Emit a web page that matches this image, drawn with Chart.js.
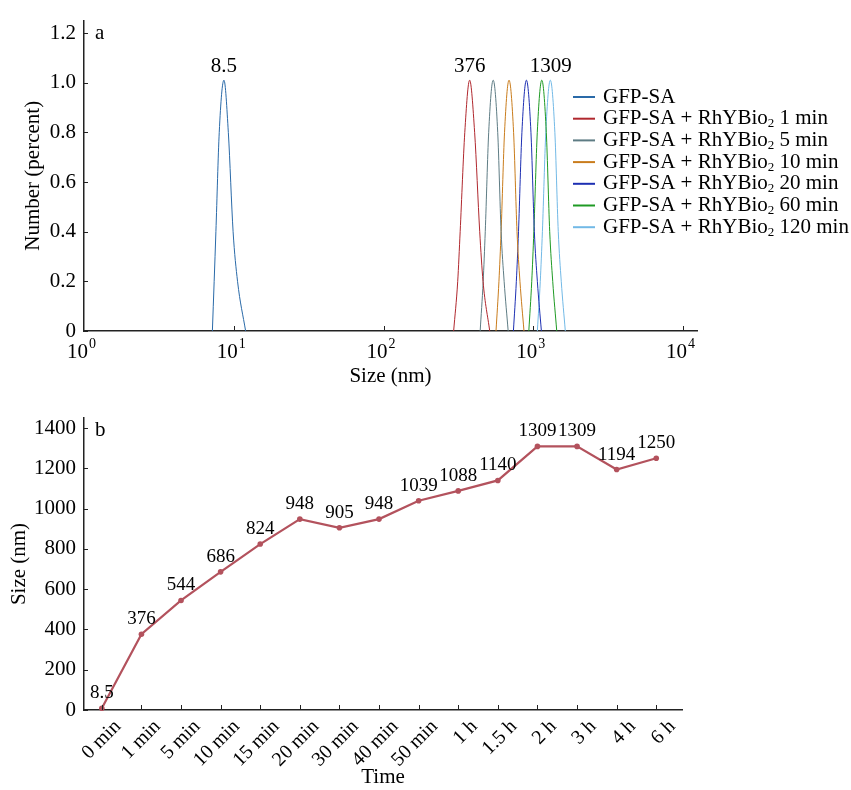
<!DOCTYPE html>
<html>
<head>
<meta charset="utf-8">
<script src="https://cdn.jsdelivr.net/npm/chart.js@4.4.1/dist/chart.umd.min.js"></script>
<style>
  html, body { margin: 0; padding: 0; background: #fff; }
  .panel { position: relative; width: 851px; height: 395px; }
</style>
</head>
<body>
<div class="panel"><canvas id="chart-a"></canvas></div>
<div class="panel"><canvas id="chart-b"></canvas></div>
<script>
const SERIF = '"Liberation Serif", "Times New Roman", serif';

// ---- panel a: size distribution, x = size (nm), y = number (percent)
const seriesNames = [
    'GFP-SA',
    'GFP-SA + RhYBio₂ 1 min',
    'GFP-SA + RhYBio₂ 5 min',
    'GFP-SA + RhYBio₂ 10 min',
    'GFP-SA + RhYBio₂ 20 min',
    'GFP-SA + RhYBio₂ 60 min',
    'GFP-SA + RhYBio₂ 120 min'
];
const seriesColors = ['#2a6aa8', '#b0282e', '#5e7c84', '#c97c1c', '#1d2fb2', '#1f9a24', '#72b9e6'];

// [size nm, number %]
const gfpSa    = [[7.2, 0], [7.4, 0.2], [7.6, 0.4], [8.0, 0.8], [8.6, 1.01], [9.2, 0.8], [9.9, 0.4], [10.6, 0.2], [12.0, 0]];
const rh1min   = [[294, 0], [313, 0.2], [325, 0.4], [349, 0.8], [376, 1.01], [406, 0.8], [439, 0.4], [462, 0.2], [512, 0]];
const rh5min   = [[442, 0], [463, 0.2], [478, 0.4], [504, 0.8], [540, 1.01], [579, 0.8], [610, 0.4], [639, 0.2], [680, 0]];
const rh10min  = [[564, 0], [590, 0.2], [610, 0.4], [643, 0.8], [689, 1.01], [739, 0.8], [779, 0.4], [815, 0.2], [867, 0]];
const rh20min  = [[737, 0], [771, 0.2], [797, 0.4], [840, 0.8], [900, 1.01], [965, 0.8], [1017, 0.4], [1065, 0.2], [1133, 0]];
const rh60min  = [[934, 0], [977, 0.2], [1009, 0.4], [1064, 0.8], [1140, 1.01], [1222, 0.8], [1288, 0.4], [1349, 0.2], [1435, 0]];
const rh120min = [[1065, 0], [1114, 0.2], [1151, 0.4], [1213, 0.8], [1300, 1.01], [1394, 0.8], [1469, 0.4], [1538, 0.2], [1637, 0]];
const curves = [gfpSa, rh1min, rh5min, rh10min, rh20min, rh60min, rh120min];

const peakLabels = ['8.5', '376', '1309'];
const peakPositions = [8.6, 376, 1309];
const sizeTicks = [1, 10, 100, 1000, 10000];
const numberTicks = [0, 0.2, 0.4, 0.6, 0.8, 1.0, 1.2];

// ---- panel b: size over time
const times = ['0 min', '1 min', '5 min', '10 min', '15 min', '20 min', '30 min', '40 min',
               '50 min', '1 h', '1.5 h', '2 h', '3 h', '4 h', '6 h'];
const sizes = [8.5, 376, 544, 686, 824, 948, 905, 948, 1039, 1088, 1140, 1309, 1309, 1194, 1250];
const sizeAxisTicks = [0, 200, 400, 600, 800, 1000, 1200, 1400];

const lineColor = '#b3525d';
const FS = 21;

function drawInwardTicks(ctx, chart, xValues, yValues, xLen, yLen) {
    const { x, y } = chart.scales;
    ctx.save();
    ctx.strokeStyle = '#222';
    ctx.lineWidth = 1;
    yValues.forEach(v => {
        const py = Math.round(y.getPixelForValue(v)) + 0.5;
        ctx.beginPath();
        ctx.moveTo(x.left, py);
        ctx.lineTo(x.left + yLen, py);
        ctx.stroke();
    });
    xValues.forEach(v => {
        const px = Math.round(x.getPixelForValue(v)) + 0.5;
        ctx.beginPath();
        ctx.moveTo(px, y.bottom);
        ctx.lineTo(px, y.bottom - xLen);
        ctx.stroke();
    });
    ctx.restore();
}

// text with "₂" drawn as a real subscript
function fillSubText(ctx, text, x, y, size) {
    const parts = text.split('₂');
    let cx = x;
    parts.forEach((part, i) => {
        ctx.font = `${size}px ${SERIF}`;
        ctx.fillText(part, cx, y);
        cx += ctx.measureText(part).width;
        if (i < parts.length - 1) {
            ctx.font = `${Math.round(size * 0.62)}px ${SERIF}`;
            ctx.fillText('2', cx, y + 5);
            cx += ctx.measureText('2').width;
        }
    });
}

const panelAExtras = {
    id: 'panelAExtras',
    afterDraw(chart) {
        const { ctx } = chart;
        const { x, y } = chart.scales;
        drawInwardTicks(ctx, chart, sizeTicks.slice(1), numberTicks, 5, 4);

        ctx.save();
        ctx.fillStyle = '#000';
        ctx.textBaseline = 'alphabetic';
        ctx.textAlign = 'left';

        // decade labels 10^n
        sizeTicks.forEach(v => {
            const px = x.getPixelForValue(v);
            const exp = String(Math.round(Math.log10(v)));
            ctx.font = `${FS}px ${SERIF}`;
            const w1 = ctx.measureText('10').width;
            ctx.font = `14px ${SERIF}`;
            const w2 = ctx.measureText(exp).width;
            const left = px - (w1 + w2) / 2 - 3;
            ctx.font = `${FS}px ${SERIF}`;
            ctx.fillText('10', left, y.bottom + 27);
            ctx.font = `14px ${SERIF}`;
            ctx.fillText(exp, left + w1 + 1, y.bottom + 17);
        });

        // peak labels
        ctx.font = `${FS}px ${SERIF}`;
        ctx.textAlign = 'center';
        ctx.textBaseline = 'middle';
        peakLabels.forEach((t, i) => {
            ctx.fillText(t, x.getPixelForValue(peakPositions[i]), y.getPixelForValue(1.0) - 16);
        });

        // panel letter
        ctx.textAlign = 'left';
        ctx.fillText('a', x.left + 11, y.getPixelForValue(1.2));

        // legend
        ctx.textBaseline = 'middle';
        seriesNames.forEach((name, i) => {
            const ly = 97 + i * 21.7;
            ctx.strokeStyle = seriesColors[i];
            ctx.lineWidth = 2;
            ctx.beginPath();
            ctx.moveTo(573, ly);
            ctx.lineTo(595, ly);
            ctx.stroke();
            fillSubText(ctx, name, 603, ly, 21);
        });
        ctx.restore();
    }
};

const panelBExtras = {
    id: 'panelBExtras',
    afterDraw(chart) {
        const { ctx } = chart;
        const { x, y } = chart.scales;
        drawInwardTicks(ctx, chart, times.map((_, i) => i), sizeAxisTicks, 5, 4);

        ctx.save();
        ctx.fillStyle = '#000';
        ctx.font = `19px ${SERIF}`;
        ctx.textAlign = 'center';
        ctx.textBaseline = 'middle';
        const meta = chart.getDatasetMeta(0);
        meta.data.forEach((pt, i) => {
            ctx.fillText(String(sizes[i]), pt.x, pt.y - 15);
        });
        ctx.font = `${FS}px ${SERIF}`;
        ctx.textAlign = 'left';
        ctx.fillText('b', x.left + 11, y.getPixelForValue(1400) + 2);
        ctx.restore();
    }
};

Chart.defaults.font.family = SERIF;
Chart.defaults.color = '#000';

new Chart(document.getElementById('chart-a'), {
    type: 'line',
    data: {
        datasets: curves.map((pts, i) => ({
            label: seriesNames[i],
            data: pts.map(p => ({ x: p[0], y: p[1] })),
            borderColor: seriesColors[i],
            borderWidth: 1,
            pointRadius: 0,
            cubicInterpolationMode: 'monotone',
            fill: false
        }))
    },
    options: {
        animation: false,
        responsive: true,
        maintainAspectRatio: false,
        layout: { padding: { left: 0, top: 15, right: 154, bottom: 0 } },
        plugins: { legend: { display: false }, tooltip: { enabled: false } },
        scales: {
            x: {
                type: 'logarithmic',
                min: 1,
                max: 12400,
                grid: { display: false, drawTicks: false },
                border: { display: true, color: '#222', width: 1.5 },
                ticks: { display: false },
                title: { display: true, text: 'Size (nm)', font: { size: FS }, padding: { top: 0, bottom: 6 } },
                afterFit: s => { s.height = 64; }
            },
            y: {
                min: 0,
                max: 1.25,
                grid: { display: false, drawTicks: false },
                border: { display: true, color: '#222', width: 1.5 },
                ticks: {
                    font: { size: FS },
                    padding: 8,
                    callback: v => (v === 0 ? '0' : v.toFixed(1))
                },
                afterBuildTicks: s => { s.ticks = numberTicks.map(v => ({ value: v })); },
                title: { display: true, text: 'Number (percent)', font: { size: FS }, padding: { top: 21, bottom: 0 } },
                afterFit: s => { s.width = 84; }
            }
        }
    },
    plugins: [panelAExtras]
});

new Chart(document.getElementById('chart-b'), {
    type: 'line',
    data: {
        datasets: [{
            label: 'Size',
            data: sizes.map((v, i) => ({ x: i, y: v })),
            borderColor: lineColor,
            backgroundColor: lineColor,
            borderWidth: 2.2,
            pointRadius: 2.8,
            pointBorderWidth: 0,
            tension: 0,
            clip: false
        }]
    },
    options: {
        animation: false,
        responsive: true,
        maintainAspectRatio: false,
        layout: { padding: { left: 0, top: 23, right: 169, bottom: 0 } },
        plugins: { legend: { display: false }, tooltip: { enabled: false } },
        scales: {
            x: {
                type: 'linear',
                min: -0.45,
                max: 14.65,
                grid: { display: false, drawTicks: false },
                border: { display: true, color: '#222', width: 1.5 },
                afterBuildTicks: s => { s.ticks = times.map((_, i) => ({ value: i })); },
                ticks: {
                    font: { size: 20 },
                    minRotation: 45,
                    maxRotation: 45,
                    padding: 5,
                    labelOffset: 16,
                    autoSkip: false,
                    callback: v => times[v]
                },
                title: { display: true, text: 'Time', font: { size: FS }, padding: { top: 0, bottom: 0 } },
                afterFit: s => { s.height = 80; }
            },
            y: {
                min: 0,
                max: 1450,
                grid: { display: false, drawTicks: false },
                border: { display: true, color: '#222', width: 1.5 },
                afterBuildTicks: s => { s.ticks = sizeAxisTicks.map(v => ({ value: v })); },
                ticks: { font: { size: FS }, padding: 8, callback: v => String(v) },
                title: { display: true, text: 'Size (nm)', font: { size: FS }, padding: { top: 7, bottom: 0 } },
                afterFit: s => { s.width = 84; }
            }
        }
    },
    plugins: [panelBExtras]
});
</script>
</body>
</html>
